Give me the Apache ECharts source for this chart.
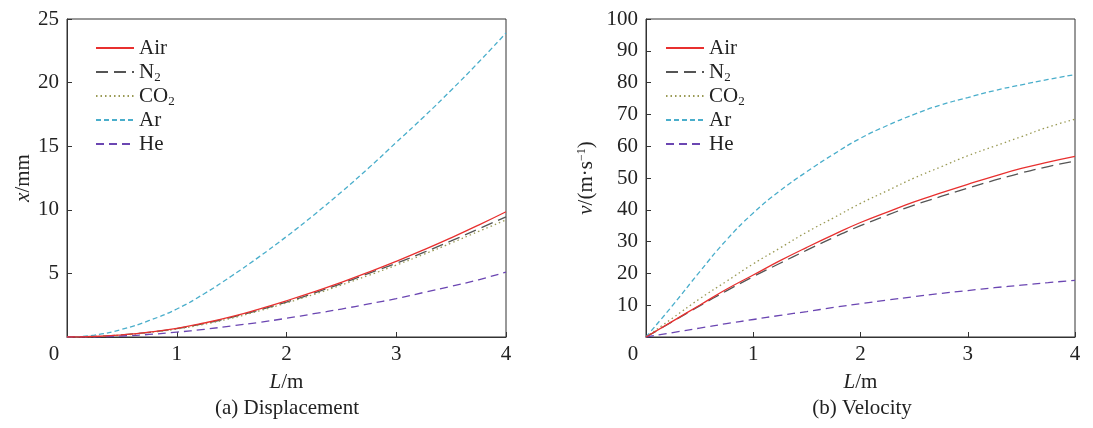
<!DOCTYPE html>
<html>
<head>
<meta charset="utf-8">
<script src="https://cdn.jsdelivr.net/npm/echarts@6/dist/echarts.min.js"></script>
<style>
  html, body { margin: 0; padding: 0; background: #fff; }
  #chart { width: 1093px; height: 428px; }
</style>
</head>
<body>
<div id="chart"></div>
<script>
// distance along tube, m
const lengths = [0, 0.25, 0.5, 0.75, 1, 1.25, 1.5, 1.75, 2, 2.25, 2.5, 2.75, 3, 3.25, 3.5, 3.75, 4]

// (a) displacement, mm
const dispAir = [0, 0.04, 0.17, 0.38, 0.68, 1.1, 1.6, 2.2, 2.85, 3.55, 4.3, 5.1, 5.95, 6.85, 7.8, 8.8, 9.85]
const dispN2 = [0, 0.04, 0.17, 0.37, 0.66, 1.06, 1.55, 2.12, 2.75, 3.45, 4.2, 5.0, 5.8, 6.65, 7.55, 8.5, 9.45]
const dispCO2 = [0, 0.03, 0.15, 0.35, 0.63, 1.0, 1.48, 2.05, 2.68, 3.35, 4.08, 4.85, 5.65, 6.5, 7.38, 8.3, 9.2]
const dispAr = [0, 0.15, 0.6, 1.3, 2.2, 3.4, 4.8, 6.3, 7.9, 9.6, 11.4, 13.3, 15.3, 17.3, 19.4, 21.6, 23.9]
const dispHe = [0, 0.02, 0.08, 0.2, 0.38, 0.6, 0.87, 1.15, 1.47, 1.83, 2.2, 2.6, 3.02, 3.5, 3.98, 4.5, 5.1]

// (b) velocity, m/s
const velAir = [0, 5, 10, 15, 19.5, 24, 28.2, 32.2, 36, 39.3, 42.5, 45.3, 48, 50.6, 53, 55, 56.8]
const velN2 = [0, 4.9, 9.8, 14.5, 19, 23.2, 27.3, 31.3, 35, 38.3, 41.5, 44.2, 46.8, 49.3, 51.6, 53.6, 55.3]
const velCO2 = [0, 6, 12, 17.5, 23, 28, 33, 37.5, 42, 46, 50, 53.5, 57, 60, 63, 66, 68.5]
const velAr = [0, 10, 20.5, 30.5, 39, 46, 52, 57.5, 62.5, 66.5, 70, 73, 75.3, 77.5, 79.3, 81, 82.5]
const velHe = [0, 1.4, 2.8, 4.2, 5.5, 6.8, 8, 9.3, 10.5, 11.6, 12.7, 13.7, 14.6, 15.5, 16.3, 17.1, 17.8]

const gasNames = ['Air', 'N2', 'CO2', 'Ar', 'He']
const xTicks = [0, 1, 2, 3, 4]

const FONT = 'Liberation Serif'
const FS = 21
const gasStyles = {
  Air: { color: '#e8302f', type: 'solid' },
  N2: { color: '#555555', type: [12, 6] },
  CO2: { color: '#9a9a55', type: [1.5, 3] },
  Ar: { color: '#4aaecb', type: [5, 3] },
  He: { color: '#6b46b2', type: [8, 5] },
}

const richText = {
  sub: { fontFamily: FONT, fontSize: 13, color: '#222', verticalAlign: 'bottom', lineHeight: 24 },
  sup: { fontFamily: FONT, fontSize: 12, color: '#222', verticalAlign: 'top', lineHeight: 10 },
  it: { fontFamily: FONT, fontSize: FS, color: '#222', fontStyle: 'italic' },
  n: { fontFamily: FONT, fontSize: FS, color: '#222' },
  z: { fontFamily: FONT, fontSize: FS, color: '#222', padding: [0, 26, 0, 0] },
}

function legendLabel(name) {
  if (name === 'N2') return 'N{sub|2}'
  if (name === 'CO2') return 'CO{sub|2}'
  return name
}

function makeSeries(values, name, axisIndex) {
  const st = gasStyles[name]
  return {
    name,
    type: 'line',
    xAxisIndex: axisIndex,
    yAxisIndex: axisIndex,
    data: lengths.map((l, i) => [l, values[i]]),
    smooth: true,
    showSymbol: false,
    symbol: 'none',
    lineStyle: { color: st.color, width: 1.3, type: st.type },
    itemStyle: { color: st.color },
    z: name === 'Air' ? 5 : 3,
  }
}

function xAxisFor(gridIndex) {
  return {
    type: 'value',
    gridIndex,
    min: 0,
    max: 4,
    interval: 1,
    name: '{it|L}{n|/m}',
    nameLocation: 'middle',
    nameGap: 35,
    nameTextStyle: { rich: richText },
    axisLine: { lineStyle: { color: '#333', width: 1 } },
    axisTick: { inside: true, length: 5, lineStyle: { color: '#333' } },
    splitLine: { show: false },
    axisLabel: {
      fontFamily: FONT,
      fontSize: FS,
      color: '#222',
      margin: 7,
      formatter: (v) => (v === xTicks[0] ? '{z|0}' : String(v)),
      rich: richText,
    },
  }
}

function yAxisFor(gridIndex, max, interval, name, nameGap) {
  return {
    type: 'value',
    gridIndex,
    min: 0,
    max,
    interval,
    name,
    nameLocation: 'middle',
    nameGap,
    nameRotate: 90,
    nameTextStyle: { rich: richText },
    axisLine: { lineStyle: { color: '#333', width: 1 } },
    axisTick: { inside: true, length: 5, lineStyle: { color: '#333' } },
    splitLine: { show: false },
    axisLabel: {
      fontFamily: FONT,
      fontSize: FS,
      color: '#222',
      margin: 8,
      formatter: (v) => (v === 0 ? '' : String(v)),
    },
  }
}

function legendFor(left) {
  return {
    left,
    top: 31,
    orient: 'vertical',
    itemWidth: 38,
    itemHeight: 12,
    itemGap: 0,
    data: gasNames,
    formatter: legendLabel,
    selectedMode: false,
    itemStyle: { opacity: 0 },
    textStyle: { fontFamily: FONT, fontSize: FS, lineHeight: 24, color: '#222', rich: richText },
  }
}

const chart = echarts.init(document.getElementById('chart'), null, { renderer: 'canvas' })

const dispSets = [dispAir, dispN2, dispCO2, dispAr, dispHe]
const velSets = [velAir, velN2, velCO2, velAr, velHe]

chart.setOption({
  backgroundColor: '#fff',
  animation: false,
  textStyle: { fontFamily: FONT },
  title: [
    { text: '(a) Displacement', left: 282, top: 393, textAlign: 'center', textStyle: { fontFamily: FONT, fontSize: FS, fontWeight: 'normal', color: '#222' } },
    { text: '(b) Velocity', left: 857, top: 393, textAlign: 'center', textStyle: { fontFamily: FONT, fontSize: FS, fontWeight: 'normal', color: '#222' } },
  ],
  grid: [
    { left: 67, right: 587, top: 19, bottom: 91, show: true, borderColor: '#333', borderWidth: 1 },
    { left: 646, right: 18, top: 19, bottom: 91, show: true, borderColor: '#333', borderWidth: 1 },
  ],
  legend: [legendFor(90), legendFor(660)],
  xAxis: [xAxisFor(0), xAxisFor(1)],
  yAxis: [
    yAxisFor(0, 25, 5, '{it|x}{n|/mm}', 31),
    yAxisFor(1, 100, 10, '{it|v}{n|/(m·s}{sup|−1}{n|)}', 49),
  ],
  series: [
    ...gasNames.map((n, i) => makeSeries(dispSets[i], n, 0)),
    ...gasNames.map((n, i) => makeSeries(velSets[i], n, 1)),
  ],
})
</script>
</body>
</html>
